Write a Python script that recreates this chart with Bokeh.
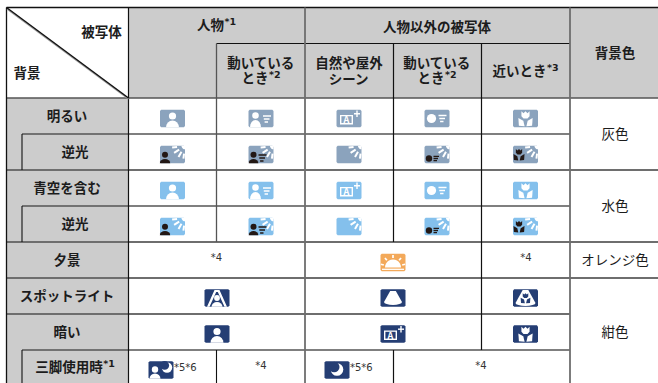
import numpy as np
from bokeh.plotting import figure
from bokeh.models import Range1d
from bokeh.core.properties import value
from bokeh.embed import file_html
from bokeh.resources import INLINE

# ---------- table content ----------
subject_label = "被写体"
background_label = "背景"
group_person = "人物"
group_other = "人物以外の被写体"
bg_colour_head = "背景色"
col_moving = ["動いている", "とき"]
col_scene = ["自然や屋外", "シーン"]
col_near = "近いとき"
row_labels = ["明るい", "逆光", "青空を含む", "逆光", "夕景", "スポットライト", "暗い", "三脚使用時"]
bg_colours = ["灰色", "水色", "オレンジ色", "紺色"]
icons_bright = ["person", "person_move", "scene", "object_move", "macro"]
icons_bright_back = ["person_back", "person_move_back", "scene_back", "object_move_back", "macro_back"]
icons_spot = ["person_spot", "object_spot", "macro_spot"]
icons_dark = ["person", "scene", "macro"]
STEEL, SKY, NAVY, ORANGE = "#8ba3bd", "#84c0ec", "#253e74", "#f3a95a"
GREY, INK, DARK, WHITE = "#cccccc", "#1c1c1c", "#231815", "#ffffff"

p = figure(width=658, height=383, output_backend="svg", toolbar_location=None,
           x_range=Range1d(0.5, 658.5), y_range=Range1d(383.5, 0.5),
           x_axis_location=None, y_axis_location=None, min_border=0,
           outline_line_color=None, tools="")
p.grid.visible = False

FONT = value("Noto Sans CJK JP")
LATIN = value("DejaVu Sans")

# ---------- fills ----------
p.quad(left=[128.5, 6.5], right=[659, 128.5], top=[7.5, 98], bottom=[98, 384],
       fill_color=GREY, line_color=None)

# ---------- rules ----------
B, M, L = "#111111", "#555555", "#6e6e6e"
hlines = [(7.5, 6.5, 659, B, 1.5), (43.5, 216.5, 570, B, 1.2), (98, 6.5, 659, M, 1.6),
          (134, 22, 570, M, 1.5), (170, 6.5, 659, L, 2), (206, 22, 570, M, 1.5),
          (242, 6.5, 659, L, 2), (278, 6.5, 659, L, 2), (314, 6.5, 570, L, 2),
          (350, 22, 570, M, 1.5)]
vlines = [(6.5, 7.5, 384, B, 1.3), (22, 134, 170, B, 1.1), (22, 206, 242, B, 1.1),
          (22, 350, 384, B, 1.1), (128.5, 7.5, 384, B, 1.2), (216.5, 43.5, 242, M, 1.3),
          (216.5, 350, 384, B, 1.1), (305, 7.5, 384, L, 1.8), (393.5, 43.5, 242, B, 1.2),
          (393.5, 350, 384, B, 1.2), (481.5, 43.5, 350, B, 1.2), (570, 7.5, 384, L, 1.8)]
for y, a, b, c, w in hlines:
    p.segment([a], [y], [b], [y], line_color=c, line_width=w)
for x, a, b, c, w in vlines:
    p.segment([x], [a], [x], [b], line_color=c, line_width=w)
p.segment([7], [9], [128.5], [99], line_color="#999999", line_width=1.5)
p.segment([6.5], [7.5], [128.5], [98], line_color=B, line_width=1.4)


# ---------- text ----------
def label(t, x, y, size=13.5, bold=True, color=INK, align="center"):
    p.text([x], [y - 1.5], text=[t], text_font=FONT, text_font_size=f"{size}px",
           text_font_style="bold" if bold else "normal", text_color=color,
           text_align=align, text_baseline="middle")


def note(t, x, y, size=10, bold=False, color="#333333", align="center"):
    p.text([x], [y], text=[t], text_font=LATIN, text_font_size=f"{size}px",
           text_font_style="bold" if bold else "normal", text_color=color,
           text_align=align, text_baseline="middle")


def sup(base, mark, x, y):
    """Bold label followed by a small superscript, centred on x as a unit."""
    w = 13.5 * len(base) + 0.5
    m = 11.5
    x0 = x - (w + m) / 2
    label(base, x0, y, align="left")
    note(mark, x0 + w, y - 4, size=9.5, bold=True, color=INK, align="left")


label(subject_label, 101.5, 32)
label(background_label, 27, 73)
sup(group_person, "*1", 216.5, 25)
label(group_other, 437, 27)
label(bg_colour_head, 615, 53)
label(col_moving[0], 261, 63)
sup(col_moving[1], "*2", 261, 78)
label(col_scene[0], 349, 63)
label(col_scene[1], 349, 79)
label(col_moving[0], 437, 63)
sup(col_moving[1], "*2", 437, 78)
sup(col_near, "*3", 525.5, 71)

for t, x, y in zip(row_labels[:7], [67, 75, 67, 75, 67, 67, 67],
                   [116, 152, 188, 224, 260, 296, 332]):
    label(t, x, y)
sup(row_labels[7], "*1", 75, 367)

for t, y in zip(bg_colours, [134, 206, 260, 332]):
    label(t, 615, y, bold=False)

for t, x, y in [("*4", 216.5, 257), ("*4", 526, 257), ("*4", 261, 365), ("*4", 481, 365)]:
    note(t, x, y)
for t, x, y in [("*5*6", 174, 367), ("*5*6", 350, 367)]:
    note(t, x, y, align="left")


# ---------- icons ----------
def poly(cx, cy, pts, color):
    p.patch([cx + a for a, _ in pts], [cy + b for _, b in pts], fill_color=color, line_color=None)


def disc(cx, cy, x, y, r, color):
    p.circle([cx + x], [cy + y], radius=r, fill_color=color, line_color=None)


def seg(cx, cy, x0, y0, x1, y1, color, w=1.3):
    p.segment([cx + x0], [cy + y0], [cx + x1], [cy + y1], line_color=color, line_width=w)


def plate(cx, cy, color):
    a, b, c = 12.5, 8.7, 1.2
    poly(cx, cy, [(-a + c, -b), (a - c, -b), (a, -b + c), (a, b - c), (a - c, b),
                  (-a + c, b), (-a, b - c), (-a, -b + c)], color)


def shoulders(cx, cy, mx, top, w, color):
    t = np.linspace(np.pi, 2 * np.pi, 9)
    pts = [(mx + w * np.cos(v), 8.7 - (8.7 - top) * abs(np.sin(v))) for v in t]
    poly(cx, cy, pts, color)


def person(cx, cy, mx, hy, r, top, w, color):
    disc(cx, cy, mx, hy, r, color)
    shoulders(cx, cy, mx, top, w, color)


def speed(cx, cy, x0, y0, color):
    seg(cx, cy, x0, y0, x0 + 8, y0, color, 1.4)
    seg(cx, cy, x0 + 0.8, y0 + 3, x0 + 6.5, y0 + 3, color, 1.4)
    seg(cx, cy, x0 + 1.6, y0 + 6, x0 + 5, y0 + 6, color, 1.4)


def rays(cx, cy):
    t = np.radians(np.linspace(0, 90, 6))
    poly(cx, cy, [(12.5, -8.7)] + [(12.5 - 3.5 * np.cos(v), -8.7 + 3.5 * np.sin(v)) for v in t], WHITE)
    for deg, r0, r1 in [(172, 8, 13), (147, 7, 13), (120, 7, 13), (97, 8, 13)]:
        d = np.radians(deg)
        x, y = np.cos(d), np.sin(d)
        seg(cx, cy, 12.5 + r0 * x, -8.7 + r0 * y, 12.5 + r1 * x, -8.7 + r1 * y, WHITE, 2)


def tulip(cx, cy, mx, scale, color):
    s = scale
    poly(cx, cy, [(mx - 3.7 * s, -6.5 * s), (mx - 1.8 * s, -4.8 * s), (mx, -6.5 * s),
                  (mx + 1.8 * s, -4.8 * s), (mx + 3.7 * s, -6.5 * s), (mx + 3.7 * s, -2 * s),
                  (mx + 1.8 * s, 0), (mx - 1.8 * s, 0), (mx - 3.7 * s, -2 * s)], color)
    poly(cx, cy, [(mx - 0.8 * s, 7 * s), (mx - 6 * s, 6.5 * s), (mx - 6.5 * s, -0.5 * s), (mx - 2 * s, 2 * s)], color)
    poly(cx, cy, [(mx + 0.8 * s, 7 * s), (mx + 6 * s, 6.5 * s), (mx + 6.5 * s, -0.5 * s), (mx + 2 * s, 2 * s)], color)


def moon(cx, cy, x, y, r, bg):
    disc(cx, cy, x, y, r, WHITE)
    disc(cx, cy, x - r * 0.45, y - r * 0.4, r * 0.85, bg)


def icon(kind, cx, cy, bg):
    plate(cx, cy, bg)
    if kind == "person":
        person(cx, cy, 0, -2.5, 3.6, 2, 6.5, WHITE)
    elif kind == "person_move":
        person(cx, cy, -5.5, -3, 3.3, 1.5, 5.5, WHITE)
        speed(cx, cy, 2, -2.5, WHITE)
    elif kind == "scene":
        poly(cx, cy, [(-9, -3.5), (4, -3.5), (4, 6), (-9, 6)], WHITE)
        poly(cx, cy, [(-7.6, -2.2), (2.6, -2.2), (2.6, 4.6), (-7.6, 4.6)], bg)
        label("A", cx - 2.5, cy + 2.9, size=9, color=WHITE)
        seg(cx, cy, 8, -8, 8, -1.5, WHITE, 1.4)
        seg(cx, cy, 5, -4.8, 11, -4.8, WHITE, 1.4)
    elif kind == "object_move":
        disc(cx, cy, -5.5, 0, 4.6, WHITE)
        speed(cx, cy, 1.5, -3, WHITE)
    elif kind == "macro":
        tulip(cx, cy, 0, 1.1, WHITE)
    elif kind == "person_back":
        person(cx, cy, -7.5, 0.3, 3, 4.5, 5.2, DARK)
        rays(cx, cy)
    elif kind == "person_move_back":
        person(cx, cy, -7.5, 0.3, 3, 4.5, 4.8, DARK)
        speed(cx, cy, -2.5, 0.5, DARK)
        rays(cx, cy)
    elif kind == "scene_back":
        rays(cx, cy)
    elif kind == "object_move_back":
        disc(cx, cy, -8, 4, 3.2, DARK)
        seg(cx, cy, -3.5, 1.8, 2, 1.8, DARK, 1.3)
        seg(cx, cy, -3.5, 4, 1, 4, DARK, 1.3)
        seg(cx, cy, -3.5, 6.2, 0, 6.2, DARK, 1.3)
        rays(cx, cy)
    elif kind == "macro_back":
        tulip(cx, cy, -6.5, 0.85, DARK)
        rays(cx, cy)
    elif kind == "person_spot":
        poly(cx, cy, [(-2.5, -8), (2.5, -8), (10, 8.7), (7.5, 8.7), (0.8, -6), (-0.8, -6), (-7.5, 8.7), (-10, 8.7)], WHITE)
        person(cx, cy, 0, 0, 2.9, 4, 5.5, WHITE)
    elif kind == "object_spot":
        t = np.linspace(0, np.pi, 9)
        poly(cx, cy, [(-2.8, -7), (2.8, -7), (9, 4)] +
             [(9 * np.cos(v), 4 + 3 * np.sin(v)) for v in t] + [(-9, 4)], WHITE)
    elif kind == "macro_spot":
        t = np.linspace(0, np.pi, 9)
        poly(cx, cy, [(-2.8, -8), (2.8, -8), (10, 5)] +
             [(10 * np.cos(v), 5 + 3 * np.sin(v)) for v in t] + [(-10, 5)], WHITE)
        tulip(cx, cy, 0, 0.75, bg)
    elif kind == "sunset":
        t = np.linspace(np.pi, 2 * np.pi, 13)
        poly(cx, cy, [(8 * np.cos(v), 5 + 8 * np.sin(v)) for v in t], WHITE)
        seg(cx, cy, -11, 6.8, 11, 6.8, WHITE, 1.3)
        for deg in [165, 130, 90, 50, 15]:
            d = np.radians(deg)
            seg(cx, cy, 9.5 * np.cos(d), 5 - 9.5 * np.sin(d), 12.5 * np.cos(d), 5 - 12.5 * np.sin(d), WHITE, 1.7)
    elif kind == "person_moon":
        person(cx, cy, -6, -0.5, 3.2, 3.5, 5.5, WHITE)
        moon(cx, cy, 6, -2.5, 5.2, bg)
    elif kind == "moon":
        moon(cx, cy, 0, -0.5, 6.3, bg)


col_x = [172.5, 261, 349, 437, 525.5]
for k, x in zip(icons_bright, col_x):
    icon(k, x, 118.5, STEEL)
    icon(k, x, 190.5, SKY)
for k, x in zip(icons_bright_back, col_x):
    icon(k, x, 154.5, STEEL)
    icon(k, x, 226.5, SKY)
icon("sunset", 393, 262.5, ORANGE)
wide_x = [217, 393, 525.5]
for k, x in zip(icons_spot, wide_x):
    icon(k, x, 298, NAVY)
for k, x in zip(icons_dark, wide_x):
    icon(k, x, 334, NAVY)
icon("person_moon", 161, 370, NAVY)
icon("moon", 337, 370, NAVY)

open("out.html", "w").write(file_html(p, INLINE))
